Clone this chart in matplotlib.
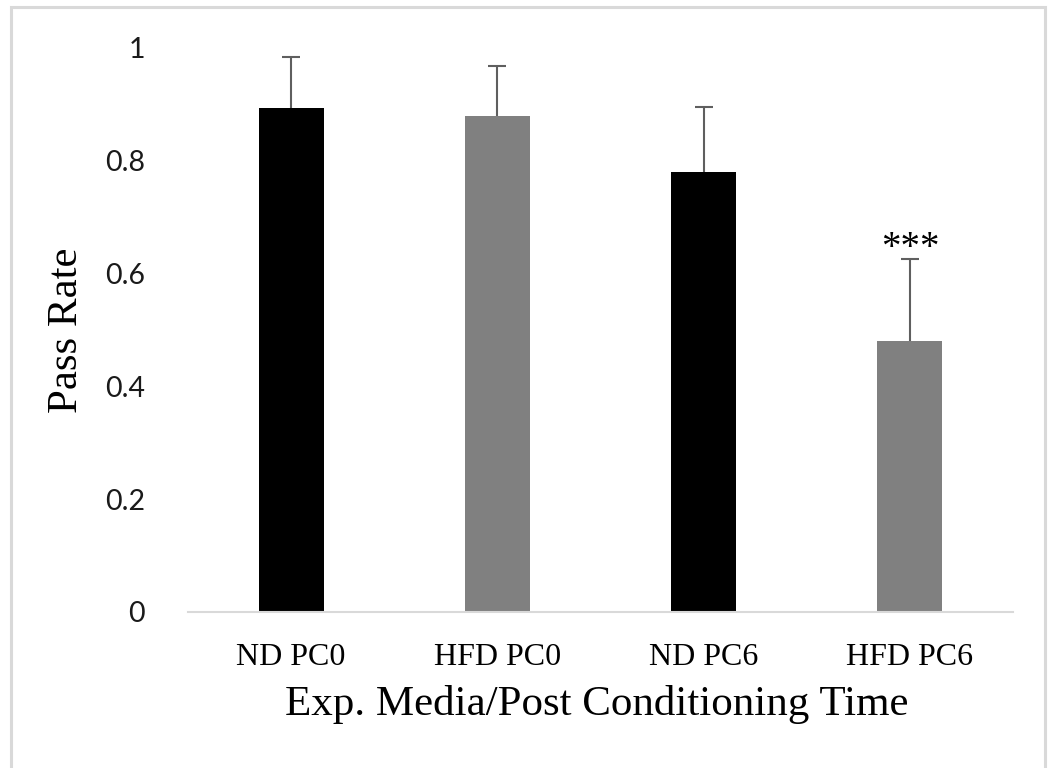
import matplotlib.pyplot as plt
from matplotlib.patches import Rectangle

categories = ["ND PC0", "HFD PC0", "ND PC6", "HFD PC6"]
pass_rate = [0.894, 0.879, 0.780, 0.480]
error_up = [0.090, 0.089, 0.115, 0.146]
bar_colors = ["#000000", "#808080", "#000000", "#808080"]
significance = ["", "", "", "***"]
y_ticks = [0, 0.2, 0.4, 0.6, 0.8, 1]
y_tick_labels = ["0", "0.2", "0.4", "0.6", "0.8", "1"]

fig = plt.figure(figsize=(10.48, 7.68), dpi=100)
ax = fig.add_axes([188 / 1048, 1 - 612 / 768, (1013 - 188) / 1048, (612 - 48) / 768])

x = range(len(categories))
ax.bar(x, pass_rate, width=0.315, color=bar_colors, zorder=2)
_, caps, _ = ax.errorbar(
    x, pass_rate,
    yerr=[[0] * len(error_up), error_up],
    fmt="none", ecolor="#5f5f5f", elinewidth=1.5, capsize=6.5, capthick=1.5,
    zorder=3,
)
# only the upper cap, like the excel "plus" error bars
caps[0].set_visible(False)

# stars above the error bar
for i, s in enumerate(significance):
    if s:
        ax.text(i, pass_rate[i] + error_up[i] + 0.019, s, ha="center", va="center",
                family="Liberation Serif", fontsize=28)

ax.set_xlim(-0.5, len(categories) - 0.5)
ax.set_ylim(0, 1)
ax.set_xticks(list(x))
ax.set_xticklabels(categories, family="Liberation Serif", fontsize=23)
ax.set_yticks(y_ticks)
ax.set_yticklabels(y_tick_labels, family="Lato", fontsize=20.5, color="#1a1a1a")
ax.tick_params(axis="both", length=0)
ax.tick_params(axis="y", pad=31)
ax.tick_params(axis="x", pad=22)

for side in ["top", "right", "left"]:
    ax.spines[side].set_visible(False)
ax.spines["bottom"].set_color("#d9d9d9")
ax.spines["bottom"].set_linewidth(1.5)

fig.text(67 / 1048, 1 - 330 / 768, "Pass Rate", rotation=90, ha="center", va="center",
         family="Liberation Serif", fontsize=31)
fig.text(597 / 1048, 1 - 705 / 768, "Exp. Media/Post Conditioning Time", ha="center",
         va="center", family="Liberation Serif", fontsize=31)

# light gray frame around the whole chart
fig.patches.append(Rectangle((11 / 1048, -0.05), (1045 - 11) / 1048, 1.05 - 7.5 / 768,
                             transform=fig.transFigure, fill=False,
                             edgecolor="#d9d9d9", linewidth=2.2))

fig.savefig("out.png", dpi=100)
